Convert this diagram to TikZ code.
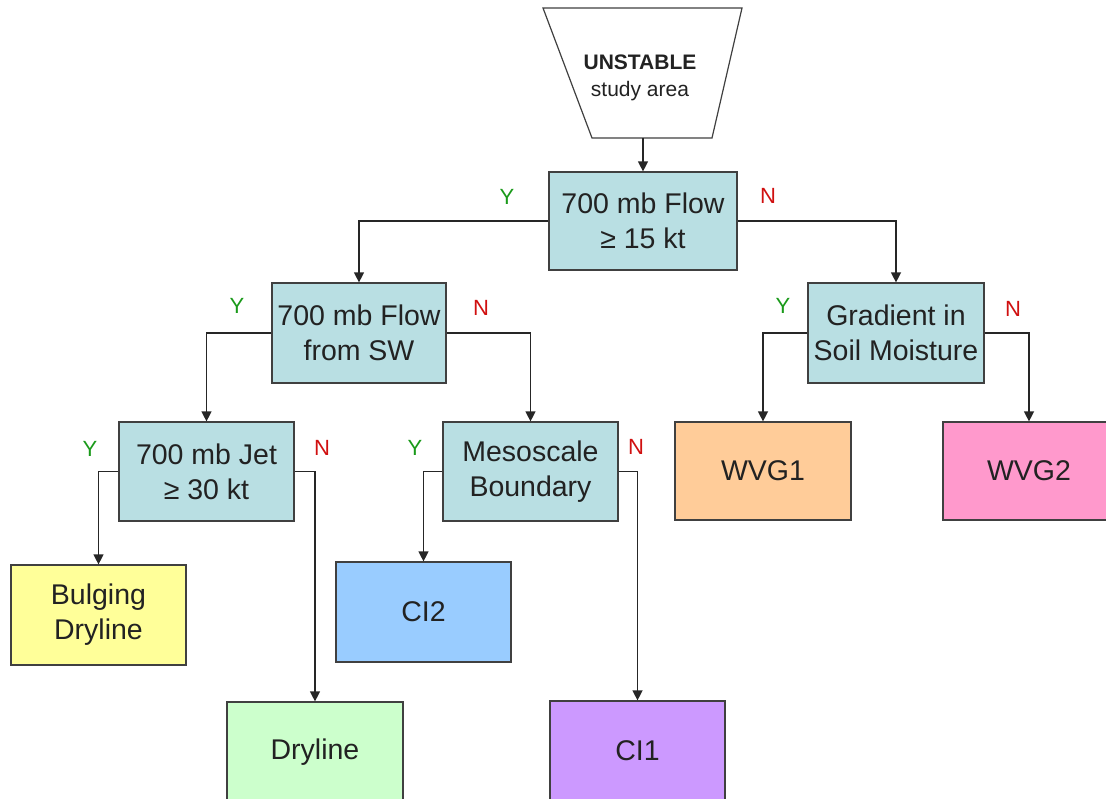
\documentclass[tikz,border=0pt]{standalone}
\usepackage{fontspec}
\setmainfont{Liberation Sans}
\usetikzlibrary{arrows.meta}
\definecolor{qbox}{HTML}{B9DFE3}
\definecolor{cyel}{HTML}{FFFF99}
\definecolor{cgrn}{HTML}{CCFFCC}
\definecolor{cblu}{HTML}{99CCFF}
\definecolor{cpur}{HTML}{CC99FF}
\definecolor{cora}{HTML}{FFCC99}
\definecolor{cpnk}{HTML}{FF99CC}
\definecolor{ylab}{HTML}{1A9A1A}
\definecolor{nlab}{HTML}{D01010}
\definecolor{txt}{HTML}{222222}
\tikzset{
  box/.style={rectangle, draw=black!75, line width=1.2pt, inner sep=0pt,
    align=center, text=txt, font=\fontsize{28.5}{35}\selectfont},
  qbox/.style={box, fill=qbox},
  arr/.style={draw=black!85, line width=1.3pt, -{Triangle[length=10pt,width=10pt]}},
  ylabel/.style={text=ylab, font=\fontsize{22}{26}\selectfont},
  nlabel/.style={text=nlab, font=\fontsize{22}{26}\selectfont},
}
\begin{document}
\begin{tikzpicture}[x=1pt,y=-1pt]
\useasboundingbox (0,0) rectangle (1106,799);
% start trapezoid
\draw[draw=black!75, line width=1.2pt, fill=white] (543,8) -- (742,8) -- (712,138) -- (592,138) -- cycle;
\node[text=txt, align=center, font=\fontsize{21}{27}\selectfont] (start) at (640,78) {\textbf{UNSTABLE}\\study area};
\coordinate (startbot) at (643,138);

\node[qbox, minimum width=188pt, minimum height=98pt] (b1) at (643,221) {700 mb Flow\\≥ 15 kt};
\node[qbox, minimum width=174pt, minimum height=100pt] (b2) at (359,333) {700 mb Flow\\from SW};
\node[qbox, minimum width=176pt, minimum height=100pt] (grad) at (896,333) {Gradient in\\Soil Moisture};
\node[qbox, minimum width=175pt, minimum height=99pt] (b3) at (206.5,471.5) {700 mb Jet\\≥ 30 kt};
\node[qbox, minimum width=175pt, minimum height=99pt] (meso) at (530.5,471.5) {Mesoscale\\Boundary};

\node[box, fill=cyel, minimum width=175pt, minimum height=100pt] (bulg) at (98.5,615) {Bulging\\Dryline};
\node[box, fill=cgrn, minimum width=176pt, minimum height=100pt] (dry) at (315,752) {Dryline};
\node[box, fill=cblu, minimum width=175pt, minimum height=100pt] (ci2) at (423.5,612) {CI2};
\node[box, fill=cpur, minimum width=175pt, minimum height=100pt] (ci1) at (637.5,751) {CI1};
\node[box, fill=cora, minimum width=176pt, minimum height=98pt] (wvg1) at (763,471) {WVG1};
\node[box, fill=cpnk, minimum width=172pt, minimum height=98pt] (wvg2) at (1029,471) {WVG2};

\draw[arr] (startbot) -- (b1.north);
\draw[arr] (b1.west) -| (b2.north);
\draw[arr] (b1.east) -| (grad.north);
\draw[arr] (b2.west) -| (b3.north);
\draw[arr] (b2.east) -| (meso.north);
\draw[arr] (grad.west) -| (wvg1.north);
\draw[arr] (grad.east) -| (wvg2.north);
\draw[arr] (b3.west) -| (bulg.north);
\draw[arr] (b3.east) -| (dry.north);
\draw[arr] (meso.west) -| (ci2.north);
\draw[arr] (meso.east) -| (ci1.north);

\node[ylabel] (y1) at (507,197) {Y};
\node[nlabel] (n1) at (768,196) {N};
\node[ylabel] (y2) at (237,306) {Y};
\node[nlabel] (n2) at (481,308) {N};
\node[ylabel] (y3) at (783,306) {Y};
\node[nlabel] (n3) at (1013,309) {N};
\node[ylabel] (y4) at (90,449) {Y};
\node[nlabel] (n4) at (322,448) {N};
\node[ylabel] (y5) at (415,448) {Y};
\node[nlabel] (n5) at (636,447) {N};
\end{tikzpicture}
\end{document}
